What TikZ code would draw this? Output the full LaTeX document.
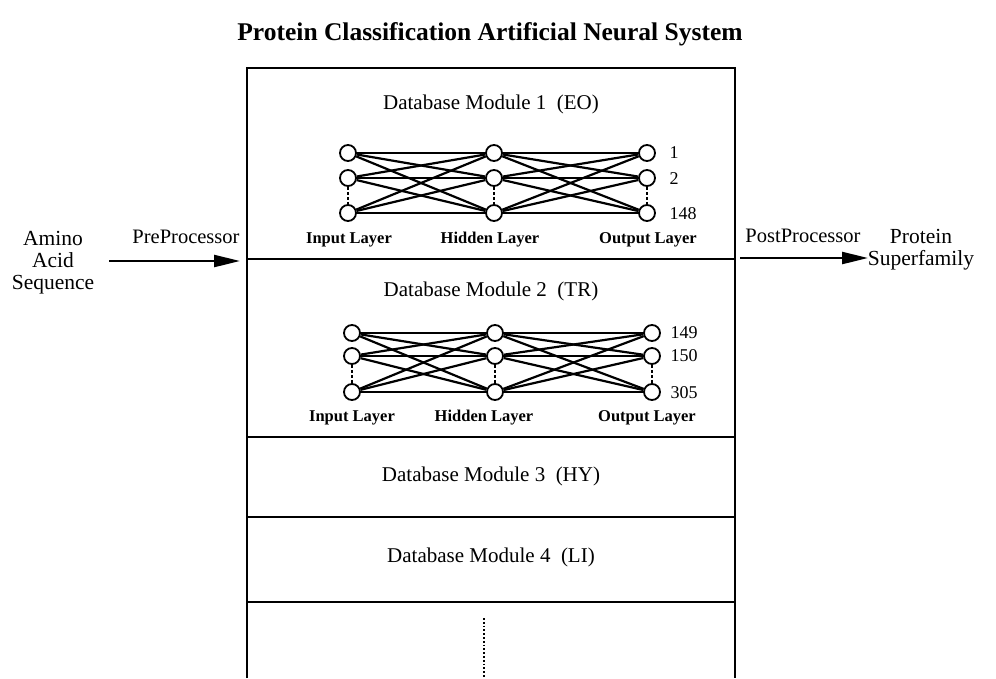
\documentclass[tikz,border=0pt]{standalone}
\usepackage{fontspec}
\setmainfont{Liberation Serif}
\usetikzlibrary{arrows.meta}
\begin{document}
\begin{tikzpicture}[x=1pt,y=-1pt,
  neuron/.style={circle,draw,line width=1.8pt,minimum size=16pt,inner sep=0pt,fill=white},
  wire/.style={line width=2.2pt},
  frame/.style={line width=1.8pt},
  modtitle/.style={font=\fontsize{21}{25}\selectfont},
  layerlbl/.style={font=\bfseries\fontsize{16.5}{19}\selectfont},
  unitlbl/.style={font=\fontsize{18}{20}\selectfont,anchor=west},
  sidetxt/.style={align=center,font=\fontsize{21.5}{22}\selectfont},
  proclbl/.style={font=\fontsize{20.5}{24}\selectfont},
  flow/.style={line width=2.4pt,-{Triangle[length=26pt,width=12pt]}}]
\useasboundingbox (0,0) rectangle (996,678);

% title
\node[font=\bfseries\fontsize{25.5}{30}\selectfont] (title) at (490,34) {Protein Classification Artificial Neural System};

% outer frame, open at the bottom
\draw[frame] (247,678) -- (247,68) -- (735,68) -- (735,678);
\foreach \yy in {259,437,517,602} \draw[frame] (247,\yy) -- (735,\yy);

% module titles
\node[modtitle] (m1) at (491,104) {Database Module 1~~(EO)};
\node[modtitle] (m2) at (491,291) {Database Module 2~~(TR)};
\node[modtitle] (m3) at (491,476) {Database Module 3~~(HY)};
\node[modtitle] (m4) at (491,557) {Database Module 4~~(LI)};

% further modules
\draw[line width=1.8pt,dotted] (484,618) -- (484,678);

% network of module 1
\foreach \c/\xx in {i/348,h/494,o/647}{
  \node[neuron] (a\c1) at (\xx,153) {};
  \node[neuron] (a\c2) at (\xx,178) {};
  \node[neuron] (a\c3) at (\xx,213) {};
  \draw[line width=1.5pt,dash pattern=on 3pt off 2pt] (a\c2) -- (a\c3);
}
\foreach \p in {1,2,3}{\foreach \q in {1,2,3}{
  \draw[wire] (ai\p) -- (ah\q);
  \draw[wire] (ah\p) -- (ao\q);
}}
\node[unitlbl] (a1lbl) at (666,153) {1};
\node[unitlbl] (a2lbl) at (666,179) {2};
\node[unitlbl] (a3lbl) at (666,214) {148};
\node[layerlbl] (ail) at (349,240) {Input Layer};
\node[layerlbl] (ahl) at (490,240) {Hidden Layer};
\node[layerlbl] (aol) at (648,240) {Output Layer};

% network of module 2
\foreach \c/\xx in {i/352,h/495,o/652}{
  \node[neuron] (b\c1) at (\xx,333) {};
  \node[neuron] (b\c2) at (\xx,356) {};
  \node[neuron] (b\c3) at (\xx,392) {};
  \draw[line width=1.5pt,dash pattern=on 3pt off 2pt] (b\c2) -- (b\c3);
}
\foreach \p in {1,2,3}{\foreach \q in {1,2,3}{
  \draw[wire] (bi\p) -- (bh\q);
  \draw[wire] (bh\p) -- (bo\q);
}}
\node[unitlbl] (b1lbl) at (667,333) {149};
\node[unitlbl] (b2lbl) at (667,356) {150};
\node[unitlbl] (b3lbl) at (667,393) {305};
\node[layerlbl] (bil) at (352,418) {Input Layer};
\node[layerlbl] (bhl) at (484,418) {Hidden Layer};
\node[layerlbl] (bol) at (647,418) {Output Layer};

% input side
\node[sidetxt] (aas) at (53,263) {Amino\\Acid\\Sequence};
\node[proclbl] (pre) at (186,237) {PreProcessor};
\coordinate (pstart) at (109,261);
\coordinate (pin) at (240,261);
\draw[flow] (pstart) -- (pin);

% output side
\node[sidetxt] (psf) at (921,250) {Protein\\Superfamily};
\node[proclbl] (post) at (803,236) {PostProcessor};
\coordinate (pout) at (740,258);
\coordinate (pend) at (868,258);
\draw[flow] (pout) -- (pend);
\end{tikzpicture}
\end{document}
